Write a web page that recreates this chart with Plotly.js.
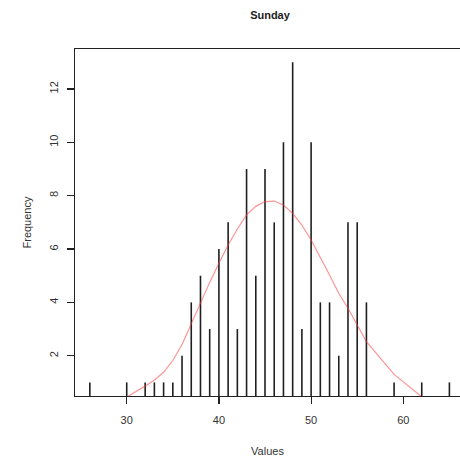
<!DOCTYPE html>
<html>
<head>
<meta charset="utf-8">
<script src="https://cdn.plot.ly/plotly-3.0.1.min.js"></script>
<style>html,body{margin:0;padding:0;background:#fff;}#chart{width:460px;height:461px;}</style>
</head>
<body>
<div id="chart"></div>
<script>
// Observed values and their frequencies
const values = [26, 30, 32, 33, 34, 35, 36, 37, 38, 39, 40, 41, 42, 43, 44, 45, 46, 47, 48, 49, 50, 51, 52, 53, 54, 55, 56, 59, 62, 65];
const frequency = [1, 1, 1, 1, 1, 1, 2, 4, 5, 3, 6, 7, 3, 9, 5, 9, 7, 10, 13, 3, 10, 4, 4, 2, 7, 7, 4, 1, 1, 1];
// Fitted normal curve, read at the same values
const curveValues = [0.1, 0.45, 0.86, 1.09, 1.38, 1.82, 2.42, 3.2, 3.99, 4.75, 5.47, 6.15, 6.75, 7.28, 7.6, 7.78, 7.8, 7.65, 7.34, 6.9, 6.34, 5.71, 5.03, 4.34, 3.78, 3.15, 2.53, 1.3, 0.46, 0.15];
const xTicks = [30, 40, 50, 60];
const yTicks = [2, 4, 6, 8, 10, 12];

// build vertical "h" style lines from the arrays
const hx = [], hy = [];
values.forEach((v, i) => { hx.push(v, v, null); hy.push(0, frequency[i], null); });

const font = {family: 'Liberation Sans, Arial, Helvetica, sans-serif', color: '#333', size: 11};

const traces = [
  {x: hx, y: hy, type: 'scatter', mode: 'lines', line: {color: '#1f1f1f', width: 1.6}, hoverinfo: 'skip', showlegend: false},
  {x: values, y: curveValues, type: 'scatter', mode: 'lines', line: {color: 'rgba(255,60,60,0.55)', width: 1.2}, showlegend: false}
];

const layout = {
  width: 460, height: 461,
  margin: {l: 75, r: 0, t: 49, b: 65},
  paper_bgcolor: '#fff', plot_bgcolor: '#fff',
  font: font,
  title: {text: '<b>Sunday</b>', x: 270/460, xref: 'container', xanchor: 'center', y: 1 - 15/461, yref: 'container', yanchor: 'middle', font: {family: font.family, size: 11, color: '#222'}},
  xaxis: {
    range: [24.39, 66.15], tickvals: xTicks, ticktext: xTicks.map(String),
    ticks: 'outside', ticklen: 7, tickwidth: 1.2, tickcolor: '#222',
    showline: true, linecolor: '#222', linewidth: 1.3, mirror: true,
    showgrid: false, zeroline: false, ticklabelstandoff: 6,
    title: {text: 'Values', standoff: 22, font: {family: font.family, size: 11, color: '#333'}}
  },
  yaxis: {
    range: [0.49, 13.5], tickvals: yTicks, ticktext: yTicks.map(String),
    ticks: 'outside', ticklen: 7, tickwidth: 1.2, tickcolor: '#222', tickangle: -90,
    showline: true, linecolor: '#222', linewidth: 1.3, mirror: false,
    showgrid: false, zeroline: false, ticklabelstandoff: 4,
    title: {text: 'Frequency', standoff: 14, font: {family: font.family, size: 11, color: '#333'}}
  }
};

Plotly.newPlot('chart', traces, layout, {staticPlot: true, displayModeBar: false});
</script>
</body>
</html>
